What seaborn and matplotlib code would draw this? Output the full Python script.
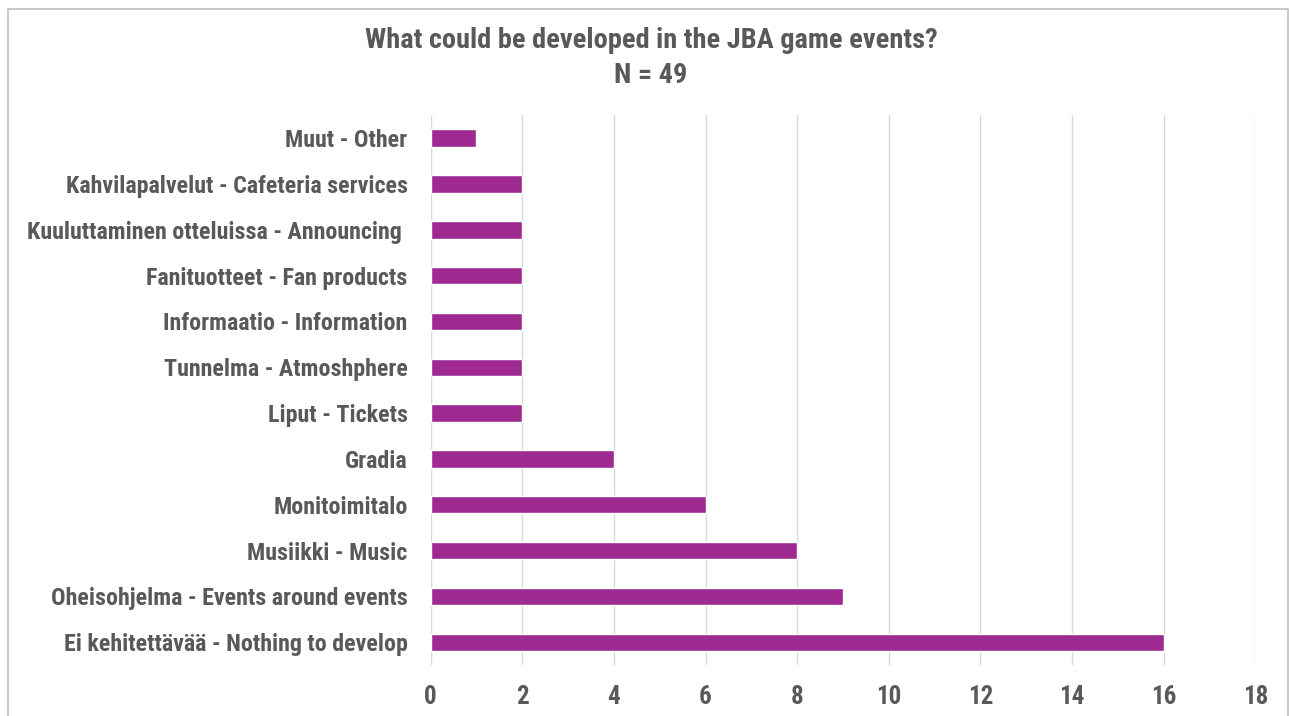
import matplotlib
matplotlib.use("Agg")
import matplotlib.pyplot as plt
import seaborn as sns
import pandas as pd
from matplotlib.patches import Rectangle

categories = [
    "Muut - Other",
    "Kahvilapalvelut - Cafeteria services",
    "Kuuluttaminen otteluissa - Announcing ",
    "Fanituotteet - Fan products",
    "Informaatio - Information",
    "Tunnelma - Atmoshphere",
    "Liput - Tickets",
    "Gradia",
    "Monitoimitalo",
    "Musiikki - Music",
    "Oheisohjelma - Events around events",
    "Ei kehitettävää - Nothing to develop",
]
counts = [1, 2, 2, 2, 2, 2, 2, 4, 6, 8, 9, 16]
x_ticks = [0, 2, 4, 6, 8, 10, 12, 14, 16, 18]

title = "What could be developed in the JBA game events?\nN = 49"

sns.set_theme(style="white")
plt.rcParams["font.family"] = ["Roboto Condensed", "Encode Sans Semi Condensed",
                               "Archivo Narrow", "DejaVu Sans"]

text_color = "#595959"
bar_color = "#9E2A91"

df = pd.DataFrame({"category": categories, "count": counts})

fig = plt.figure(figsize=(12.89, 7.16), dpi=100)
ax = fig.add_axes([0.334, 0.071, 0.640, 0.768])

sns.barplot(data=df, x="count", y="category", orient="h",
            color=bar_color, width=0.38, saturation=1, ax=ax, zorder=3)

ax.set_xlim(0, 18)
ax.set_xticks(x_ticks)
ax.set_xticklabels([str(t) for t in x_ticks])
ax.grid(axis="x", color="#D9D9D9", linewidth=1.0, zorder=0)
ax.grid(axis="y", visible=False)
for s in ax.spines.values():
    s.set_visible(False)
ax.set_xlabel("")
ax.set_ylabel("")
ax.tick_params(axis="both", length=0)
ax.tick_params(axis="y", pad=16.5)
ax.tick_params(axis="x", pad=14)

base_size = 15
for lab in ax.get_yticklabels() + ax.get_xticklabels():
    lab.set_fontsize(base_size)
    lab.set_fontweight("bold")
    lab.set_color(text_color)

title_text = fig.text(0.505, 0.919, title, ha="center", va="center",
                      fontsize=17, fontweight="bold", color=text_color,
                      linespacing=1.4)

# size the category labels so the longest one spans about 380 px,
# and the title's first line about 572 px
fig.canvas.draw()
renderer = fig.canvas.get_renderer()
widest = max(l.get_window_extent(renderer).width for l in ax.get_yticklabels())
label_size = base_size * 380.0 / widest
for lab in ax.get_yticklabels():
    lab.set_fontsize(label_size)
for lab in ax.get_xticklabels():
    lab.set_fontsize(label_size * 1.05)

probe = fig.text(0, 0, title.split("\n")[0], fontsize=17, fontweight="bold")
tw = probe.get_window_extent(renderer).width
probe.remove()
title_text.set_fontsize(17 * 572.0 / tw)

# light frame around the chart area
fig.patches.append(Rectangle((0.006, -0.01), 0.993, 0.998,
                             transform=fig.transFigure, fill=False,
                             edgecolor="#BFBFBF", linewidth=1.2))

fig.savefig("out.png", dpi=100, facecolor="white")
